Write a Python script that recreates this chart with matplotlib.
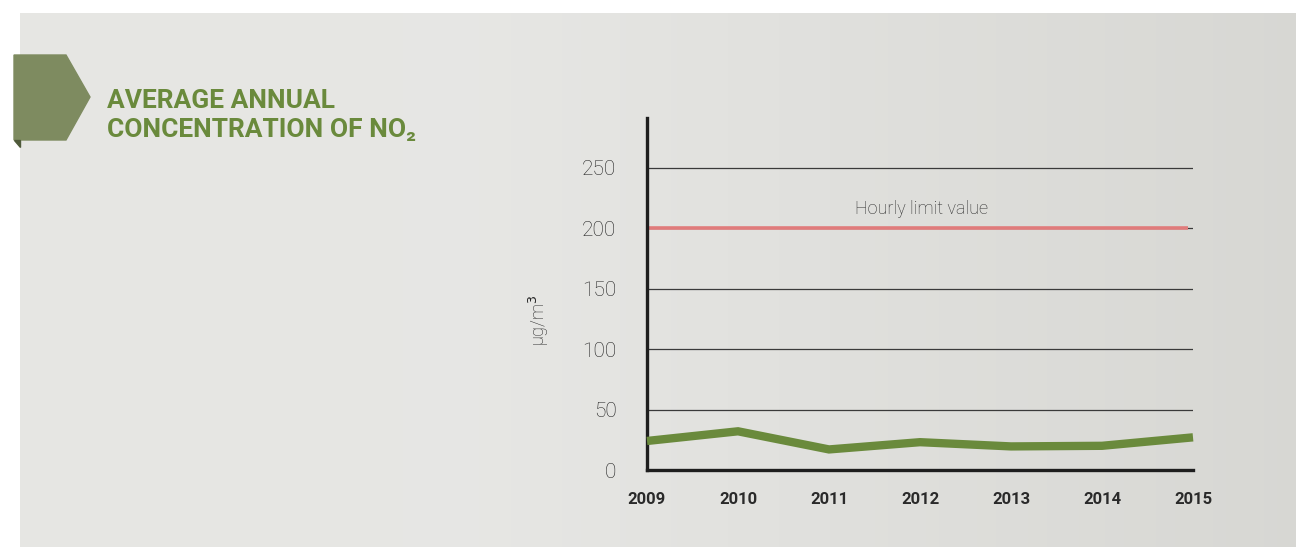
import numpy as np
import matplotlib
matplotlib.use('Agg')
import matplotlib.pyplot as plt
from matplotlib.patches import Polygon

years = [2009, 2010, 2011, 2012, 2013, 2014, 2015]
no2 = [24, 32, 17, 23, 19.5, 20, 27]
limit_value = 200
yticks = [0, 50, 100, 150, 200, 250]

W, H = 1296, 547
fig = plt.figure(figsize=(W / 100, H / 100), dpi=100)
fig.patch.set_facecolor('white')

# ---- background panel (soft grey gradient) ----
bg = fig.add_axes([20 / W, 0, 1 - 20 / W, 1 - 13 / H])
bg.set_axis_off()
gx = np.linspace(0, 1, 200)
light = np.array([0.905, 0.905, 0.895])
dark = np.array([0.845, 0.845, 0.830])
t = np.clip((gx - 0.35) / 0.65, 0, 1)[:, None]
row = light * (1 - t) + dark * t
row[:60] = row[:60] * 0.985 + dark * 0.015
img = np.repeat(row[None, :, :], 2, axis=0)
bg.imshow(img, aspect='auto', extent=[0, 1, 0, 1])
bg.set_xlim(0, 1); bg.set_ylim(0, 1)

# ---- title banner ----
ov = fig.add_axes([0, 0, 1, 1], facecolor='none')
ov.set_axis_off()
ov.set_xlim(0, W); ov.set_ylim(H, 0)
ov.add_patch(Polygon([(14, 55), (66, 55), (90, 97), (66, 140), (14, 140)],
                     closed=True, color='#7e8b60', zorder=3))
ov.add_patch(Polygon([(14, 140), (20, 140), (20, 147)], closed=True,
                     color='#4f5a3a', zorder=3))
tfam = ['Liberation Sans Narrow', 'Roboto', 'DejaVu Sans']
ov.text(107, 101, 'AVERAGE ANNUAL', color='#6a8a3c', fontsize=19,
        fontweight='bold', family=tfam, va='center', ha='left')
ov.text(107, 130, 'CONCENTRATION OF NO\u2082', color='#6a8a3c', fontsize=19,
        fontweight='bold', family=tfam, va='center', ha='left')

# ---- chart ----
ax = fig.add_axes([647 / W, 77 / H, (1193 - 647) / W, (470 - 118) / H],
                  facecolor='none')
ax.set_xlim(2009, 2015)
ax.set_ylim(0, 291)
for y in yticks[1:]:
    ax.axhline(y, color='#3a3a3a', lw=0.9, zorder=1)
ax.plot([2009.02, 2014.95], [limit_value, limit_value], color='#e07b7b',
        lw=2.6, solid_capstyle='butt', zorder=2)
ax.text(2012.02, limit_value + 8, 'Hourly limit value', color='#2e2e2e',
        fontsize=13, fontweight='light', family=tfam, ha='center', va='bottom')
ax.plot(years, no2, color='#6a8a3c', lw=6, solid_joinstyle='miter',
        solid_capstyle='butt', clip_on=False, zorder=3)

for s in ['top', 'right']:
    ax.spines[s].set_visible(False)
for s in ['left', 'bottom']:
    ax.spines[s].set_linewidth(2.4)
    ax.spines[s].set_color('#1e1e1e')
ax.set_yticks(yticks)
ax.set_yticklabels([str(v) for v in yticks], fontsize=15, color='#222222',
                   fontweight='light', family=tfam)
ax.set_xticks(years)
ax.set_xticklabels([str(v) for v in years], fontsize=12, fontweight='bold',
                   color='#2a2a2a', family=tfam)
ax.tick_params(axis='both', length=0)
ax.tick_params(axis='y', pad=22)
ax.tick_params(axis='x', pad=16)
ax.set_ylabel('\u00b5g/m$^3$', fontsize=13, color='#222222', labelpad=20,
              fontweight='light', family=tfam)
ax.yaxis.set_label_coords(-0.175, (470 - 320) / (470 - 118))

fig.savefig('out.png', dpi=100)
